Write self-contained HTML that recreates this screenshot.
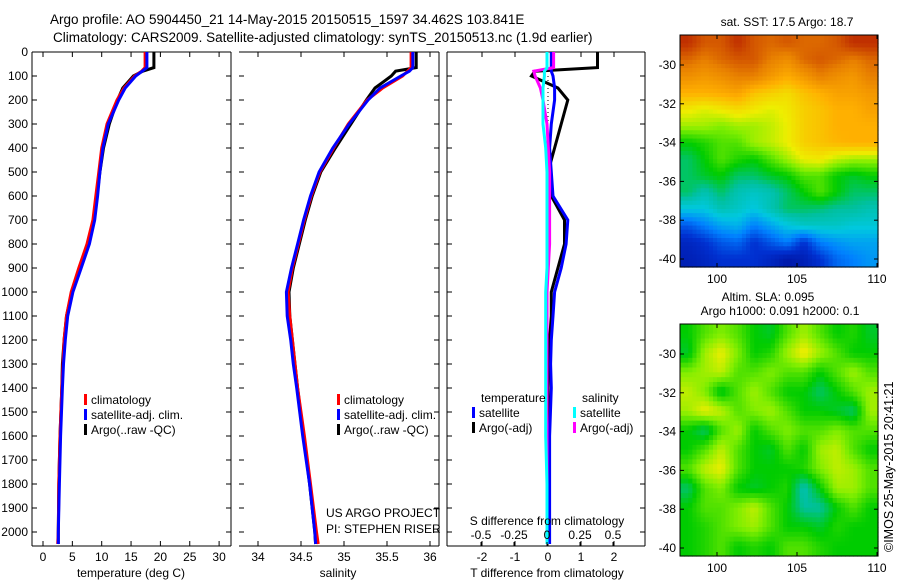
<!DOCTYPE html>
<html><head><meta charset="utf-8"><style>
body{margin:0;background:#fff}
svg{display:block;font-family:"Liberation Sans",sans-serif}
text{font-size:12px;fill:#000}
</style></head><body>
<svg id="s" width="900" height="580" viewBox="0 0 900 580" xmlns="http://www.w3.org/2000/svg">
<rect width="900" height="580" fill="#fff"/>
<text x="50" y="24" style="font-size:13.5px">Argo profile: AO 5904450_21 14-May-2015 20150515_1597 34.462S 103.841E</text>
<text x="53" y="42" style="font-size:13.5px">Climatology: CARS2009. Satellite-adjusted climatology: synTS_20150513.nc (1.9d earlier)</text>
<text transform="translate(893,552) rotate(-90)" style="font-size:12.5px">©IMOS 25-May-2015 20:41:21</text>
</svg>
<script>
const depths=[0,65,80,100,150,200,300,400,500,600,700,800,900,1000,1100,1200,1300,1400,1600,1800,2000,2050];
const tempClim=[17.4,17.4,16.8,15.6,13.8,12.6,10.9,10.0,9.5,9.0,8.5,7.5,6.1,4.8,4.0,3.6,3.4,3.2,2.9,2.7,2.6,2.5];
const tempSat=[17.7,17.7,16.9,15.8,14.0,12.9,11.1,10.2,9.7,9.3,8.8,7.9,6.5,5.1,4.2,3.8,3.5,3.3,3.0,2.8,2.6,2.6];
const tempArgo=[18.9,18.9,17.0,15.4,13.6,12.7,11.3,10.3,9.7,9.2,8.7,7.7,6.3,4.9,4.0,3.6,3.3,3.2,2.9,2.7,2.6,2.6];
const salClim=[35.78,35.78,35.74,35.68,35.45,35.27,35.05,34.88,34.72,34.62,34.54,34.47,34.40,34.35,34.37,34.40,34.43,34.46,34.54,34.61,34.68,34.70];
const salSat=[35.80,35.80,35.76,35.66,35.42,35.28,35.06,34.87,34.71,34.61,34.53,34.46,34.39,34.33,34.34,34.38,34.41,34.45,34.52,34.60,34.66,34.67];
const salArgo=[35.84,35.84,35.60,35.55,35.36,35.26,35.08,34.90,34.73,34.63,34.55,34.48,34.41,34.36,34.37,34.40,34.43,34.46,34.53,34.60,34.66,34.67];
const dTArgo=[1.5,1.5,-0.4,-0.5,0.3,0.6,0.4,0.2,0.0,0.1,0.5,0.5,0.3,0.1,0.1,0.05,0.02,0.0,0,0,0,0];
const dTSat=[0.1,0.1,0.1,0.15,0.2,0.2,0.1,0.05,0.1,0.15,0.6,0.55,0.4,0.2,0.15,0.1,0.08,0.1,0.05,0.05,0.05,0.05];
const dSArgo=[0.05,0.05,-0.1,-0.09,-0.05,-0.03,0.0,0.01,0.02,0.02,0.02,0.02,0.01,0.0,0.0,0.0,0,0,0,0,0,0];
const dSSat=[0.0,0.0,-0.02,-0.02,-0.03,-0.03,-0.03,-0.01,0.0,0.0,0.0,0.0,0.0,-0.01,-0.01,-0.01,-0.01,-0.01,-0.01,0,0,0];
const depthTicks=[0,100,200,300,400,500,600,700,800,900,1000,1100,1200,1300,1400,1500,1600,1700,1800,1900,2000];
const tempTicks=[0,5,10,15,20,25,30];
const salTicks=[34,34.5,35,35.5,36];
const dTTicks=[-2,-1,0,1,2];
const dSTicks=[-0.5,-0.25,0,0.25,0.5];
const dSTickLabels=["-0.5","-0.25","0","0.25","0.5"];
const mapLonTicks=[100,105,110];
const mapLatTicks=[-30,-32,-34,-36,-38,-40];
const sstGrid=[
[.95,.9,.9,.95,.9,.88,.9,.88,.88,.9,.95,.95],
[.88,.85,.88,.9,.9,.85,.82,.88,.9,.88,.85,.88],
[.82,.8,.82,.85,.85,.8,.76,.8,.85,.82,.8,.85],
[.75,.75,.76,.78,.72,.7,.68,.72,.75,.78,.78,.8],
[.66,.64,.66,.68,.66,.64,.66,.7,.72,.75,.75,.78],
[.6,.6,.58,.6,.6,.62,.65,.7,.72,.75,.75,.75],
[.5,.52,.55,.55,.6,.62,.65,.7,.72,.74,.75,.75],
[.45,.5,.55,.52,.5,.55,.6,.65,.66,.62,.6,.6],
[.45,.48,.5,.45,.45,.48,.5,.55,.55,.5,.48,.5],
[.45,.4,.45,.4,.38,.4,.45,.5,.55,.5,.45,.45],
[.35,.35,.4,.38,.35,.4,.45,.45,.44,.42,.42,.4],
[.2,.25,.3,.32,.25,.3,.35,.38,.38,.38,.36,.36],
[.12,.15,.2,.22,.15,.2,.25,.15,.25,.28,.3,.3],
[.1,.12,.15,.15,.15,.12,.08,.1,.15,.22,.25,.28]];
const slaGrid=[
[.5,.55,.58,.55,.5,.48,.55,.6,.55,.5,.52,.48],
[.48,.6,.65,.58,.5,.52,.6,.66,.6,.55,.5,.5],
[.58,.6,.62,.55,.55,.58,.55,.55,.5,.55,.6,.55],
[.62,.58,.48,.55,.6,.55,.5,.5,.45,.5,.55,.6],
[.6,.65,.62,.55,.58,.6,.55,.5,.5,.48,.45,.6],
[.5,.45,.55,.6,.5,.55,.58,.55,.55,.58,.55,.55],
[.5,.55,.62,.55,.5,.48,.55,.5,.6,.62,.55,.5],
[.55,.62,.65,.55,.5,.5,.5,.52,.58,.62,.6,.55],
[.45,.55,.58,.5,.48,.5,.52,.4,.5,.6,.6,.55],
[.5,.55,.55,.58,.62,.55,.5,.42,.42,.5,.55,.5],
[.5,.52,.55,.58,.6,.55,.5,.5,.48,.52,.5,.5],
[.5,.52,.55,.5,.52,.5,.55,.55,.52,.5,.5,.5]];

const NS='http://www.w3.org/2000/svg';
const svg=document.getElementById('s');
function mk(tag,attrs,parent){const e=document.createElementNS(NS,tag);for(const k in attrs)e.setAttribute(k,attrs[k]);(parent||svg).appendChild(e);return e;}
const Y0=52,Y1=546;
const yD=d=>Y0+d*0.24;
function panel(name,x0,x1,xs,ticks,labels,leftBorder){
  const g=mk('g',{});
  
  
  mk('line',{x1:x0,y1:Y0,x2:x1,y2:Y0,stroke:'#000'},g);
  mk('line',{x1:x0,y1:Y1,x2:x1,y2:Y1,stroke:'#000'},g);
  mk('line',{x1:x1,y1:Y0,x2:x1,y2:Y1,stroke:'#000'},g);
  if(leftBorder)mk('line',{x1:x0,y1:Y0,x2:x0,y2:Y1,stroke:'#000'},g);
  depthTicks.forEach(d=>{mk('line',{x1:x0,y1:yD(d),x2:x0+5,y2:yD(d),stroke:'#000'},g);mk('line',{x1:x1,y1:yD(d),x2:x1-5,y2:yD(d),stroke:'#000'},g);});
  ticks.forEach((t,i)=>{const x=xs(t);mk('line',{x1:x,y1:Y1,x2:x,y2:Y1-5,stroke:'#000'},g);mk('line',{x1:x,y1:Y0,x2:x,y2:Y0+5,stroke:'#000'},g);
    if(labels){const tx=mk('text',{x:x,y:Y1+15,'text-anchor':'middle'},g);tx.textContent=labels[i];}});
  return g;
}
function line(g,xs,vals,color,name,w){
  const p=vals.map((v,i)=>xs(v).toFixed(1)+','+yD(depths[i]).toFixed(1)).join(' ');
  const e=mk('polyline',{points:p,fill:'none',stroke:color,'stroke-width':w||3},g);
  
  
}
function legend(g,x,y,items){
  items.forEach((it,i)=>{mk('rect',{x:x,y:y+i*15-10,width:3,height:11,fill:it[0]},g);const t=mk('text',{x:x+7,y:y+i*15},g);t.textContent=it[1];});
}
const xT=v=>43+v*5.87;
const p1=panel('temperature-panel',32,231,xT,tempTicks,tempTicks.map(String),true);
depthTicks.forEach(d=>{const t=mk('text',{x:28,y:yD(d)+4,'text-anchor':'end'},p1);t.textContent=d;});
line(p1,xT,tempArgo,'#000','temp-argo-line');
line(p1,xT,tempClim,'#f00','temp-clim-line');
line(p1,xT,tempSat,'#00f','temp-sat-line');
const t1=mk('text',{x:131,y:577,'text-anchor':'middle'},p1);t1.textContent='temperature (deg C)';
legend(p1,84,404,[['#f00','climatology'],['#00f','satellite-adj. clim.'],['#000','Argo(..raw -QC)']]);
const xS=v=>258+(v-34)*86;
const p2=panel('salinity-panel',239,439,xS,salTicks,['34','34.5','35','35.5','36'],false);
line(p2,xS,salArgo,'#000','sal-argo-line');
line(p2,xS,salClim,'#f00','sal-clim-line');
line(p2,xS,salSat,'#00f','sal-sat-line');
const t2=mk('text',{x:338,y:577,'text-anchor':'middle'},p2);t2.textContent='salinity';
legend(p2,337,404,[['#f00','climatology'],['#00f','satellite-adj. clim.'],['#000','Argo(..raw -QC)']]);
const u1=mk('text',{x:326,y:517},p2);u1.textContent='US ARGO PROJECT';
const u2=mk('text',{x:326,y:533},p2);u2.textContent='PI: STEPHEN RISER';
const xdT=v=>548+v*33;
const xdS=v=>547+v*132;
const p3=panel('difference-panel',447,645,xdT,dTTicks,dTTicks.map(String),true);
mk('line',{x1:548,y1:yD(100),x2:548,y2:yD(1000),stroke:'#000','stroke-dasharray':'1,3'},p3);
line(p3,xdT,dTArgo,'#000','dT-argo-line');
line(p3,xdT,dTSat,'#00f','dT-sat-line');
line(p3,xdS,dSArgo,'#f0f','dS-argo-line');
line(p3,xdS,dSSat,'#0ff','dS-sat-line');
dSTicks.forEach((t,i)=>{const x=xdS(t);mk('line',{x1:x,y1:Y1,x2:x,y2:Y1-4,stroke:'#000'},p3);const tx=mk('text',{x:x,y:539,'text-anchor':'middle'},p3);tx.textContent=dSTickLabels[i];});
const s3=mk('text',{x:547,y:525,'text-anchor':'middle'},p3);s3.textContent='S difference from climatology';
const t3=mk('text',{x:547,y:577,'text-anchor':'middle'},p3);t3.textContent='T difference from climatology';
const lt=mk('text',{x:481,y:402},p3);lt.textContent='temperature';
const ls=mk('text',{x:582,y:402},p3);ls.textContent='salinity';
legend(p3,472,417,[['#00f','satellite'],['#000','Argo(-adj)']]);
legend(p3,573,417,[['#0ff','satellite'],['#f0f','Argo(-adj)']]);
const stops=[[0,[0,0,128]],[.15,[0,48,208]],[.25,[0,128,255]],[.35,[0,200,224]],[.42,[0,192,160]],[.5,[0,204,0]],[.58,[128,238,0]],[.65,[238,238,0]],[.75,[255,176,0]],[.85,[232,128,0]],[.95,[192,48,0]],[1,[160,0,0]]];
function cmap(v){v=Math.max(0,Math.min(1,v));for(let i=1;i<stops.length;i++){if(v<=stops[i][0]){const a=stops[i-1],b=stops[i],f=(v-a[0])/(b[0]-a[0]);const c=a[1].map((x,k)=>Math.round(x+(b[1][k]-x)*f));return 'rgb('+c.join(',')+')';}}return 'rgb(160,0,0)';}
function sample(grid,fr,fc){
  const R=grid.length,C=grid[0].length;
  fr=Math.max(0,Math.min(R-1,fr));fc=Math.max(0,Math.min(C-1,fc));
  const r0=Math.floor(fr),c0=Math.floor(fc),r1=Math.min(R-1,r0+1),c1=Math.min(C-1,c0+1),a=fr-r0,b=fc-c0;
  return grid[r0][c0]*(1-a)*(1-b)+grid[r0][c1]*(1-a)*b+grid[r1][c0]*a*(1-b)+grid[r1][c1]*a*b;
}
function map(name,top,grid,titles){
  const L=680,R=878,B=top+232;
  const g=mk('g',{});
  
  
  const lonX=lo=>717+(lo-100)*16;
  const latY=la=>top+30+(-30-la)*19.4;
  const rows=grid.length,cols=grid[0].length,sub=4;
  const nr=rows*sub,nc=cols*sub,cw=(R-L)/nc,ch=(B-top)/nr;
  for(let r=0;r<nr;r++)for(let c=0;c<nc;c++){
    const v=sample(grid,(r+0.5)/sub-0.5,(c+0.5)/sub-0.5);
    const e=mk('rect',{x:(L+c*cw).toFixed(2),y:(top+r*ch).toFixed(2),width:(cw+0.6).toFixed(2),height:(ch+0.6).toFixed(2),fill:cmap(v)},g);
    
    
  }
  mk('rect',{x:L,y:top,width:R-L,height:B-top,fill:'none',stroke:'#000'},g);
  mapLonTicks.forEach(lo=>{const x=lonX(lo);mk('line',{x1:x,y1:B,x2:x,y2:B-4,stroke:'#000'},g);mk('line',{x1:x,y1:top,x2:x,y2:top+4,stroke:'#000'},g);const t=mk('text',{x:x,y:B+16,'text-anchor':'middle'},g);t.textContent=lo;});
  mapLatTicks.forEach(la=>{const y=latY(la);mk('line',{x1:L,y1:y,x2:L+4,y2:y,stroke:'#000'},g);mk('line',{x1:R,y1:y,x2:R-4,y2:y,stroke:'#000'},g);const t=mk('text',{x:L-4,y:y+4,'text-anchor':'end'},g);t.textContent=la;});
  titles.forEach((tt,i)=>{const t=mk('text',{x:tt[1],y:top-9-(titles.length-1-i)*14,'text-anchor':'middle'},g);t.textContent=tt[0];});
}
map('sst-map',35,sstGrid,[['sat. SST: 17.5 Argo: 18.7',787]]);
map('sla-map',324,slaGrid,[['Altim. SLA: 0.095',768],['Argo h1000: 0.091 h2000: 0.1',780]]);
</script>
</body></html>
